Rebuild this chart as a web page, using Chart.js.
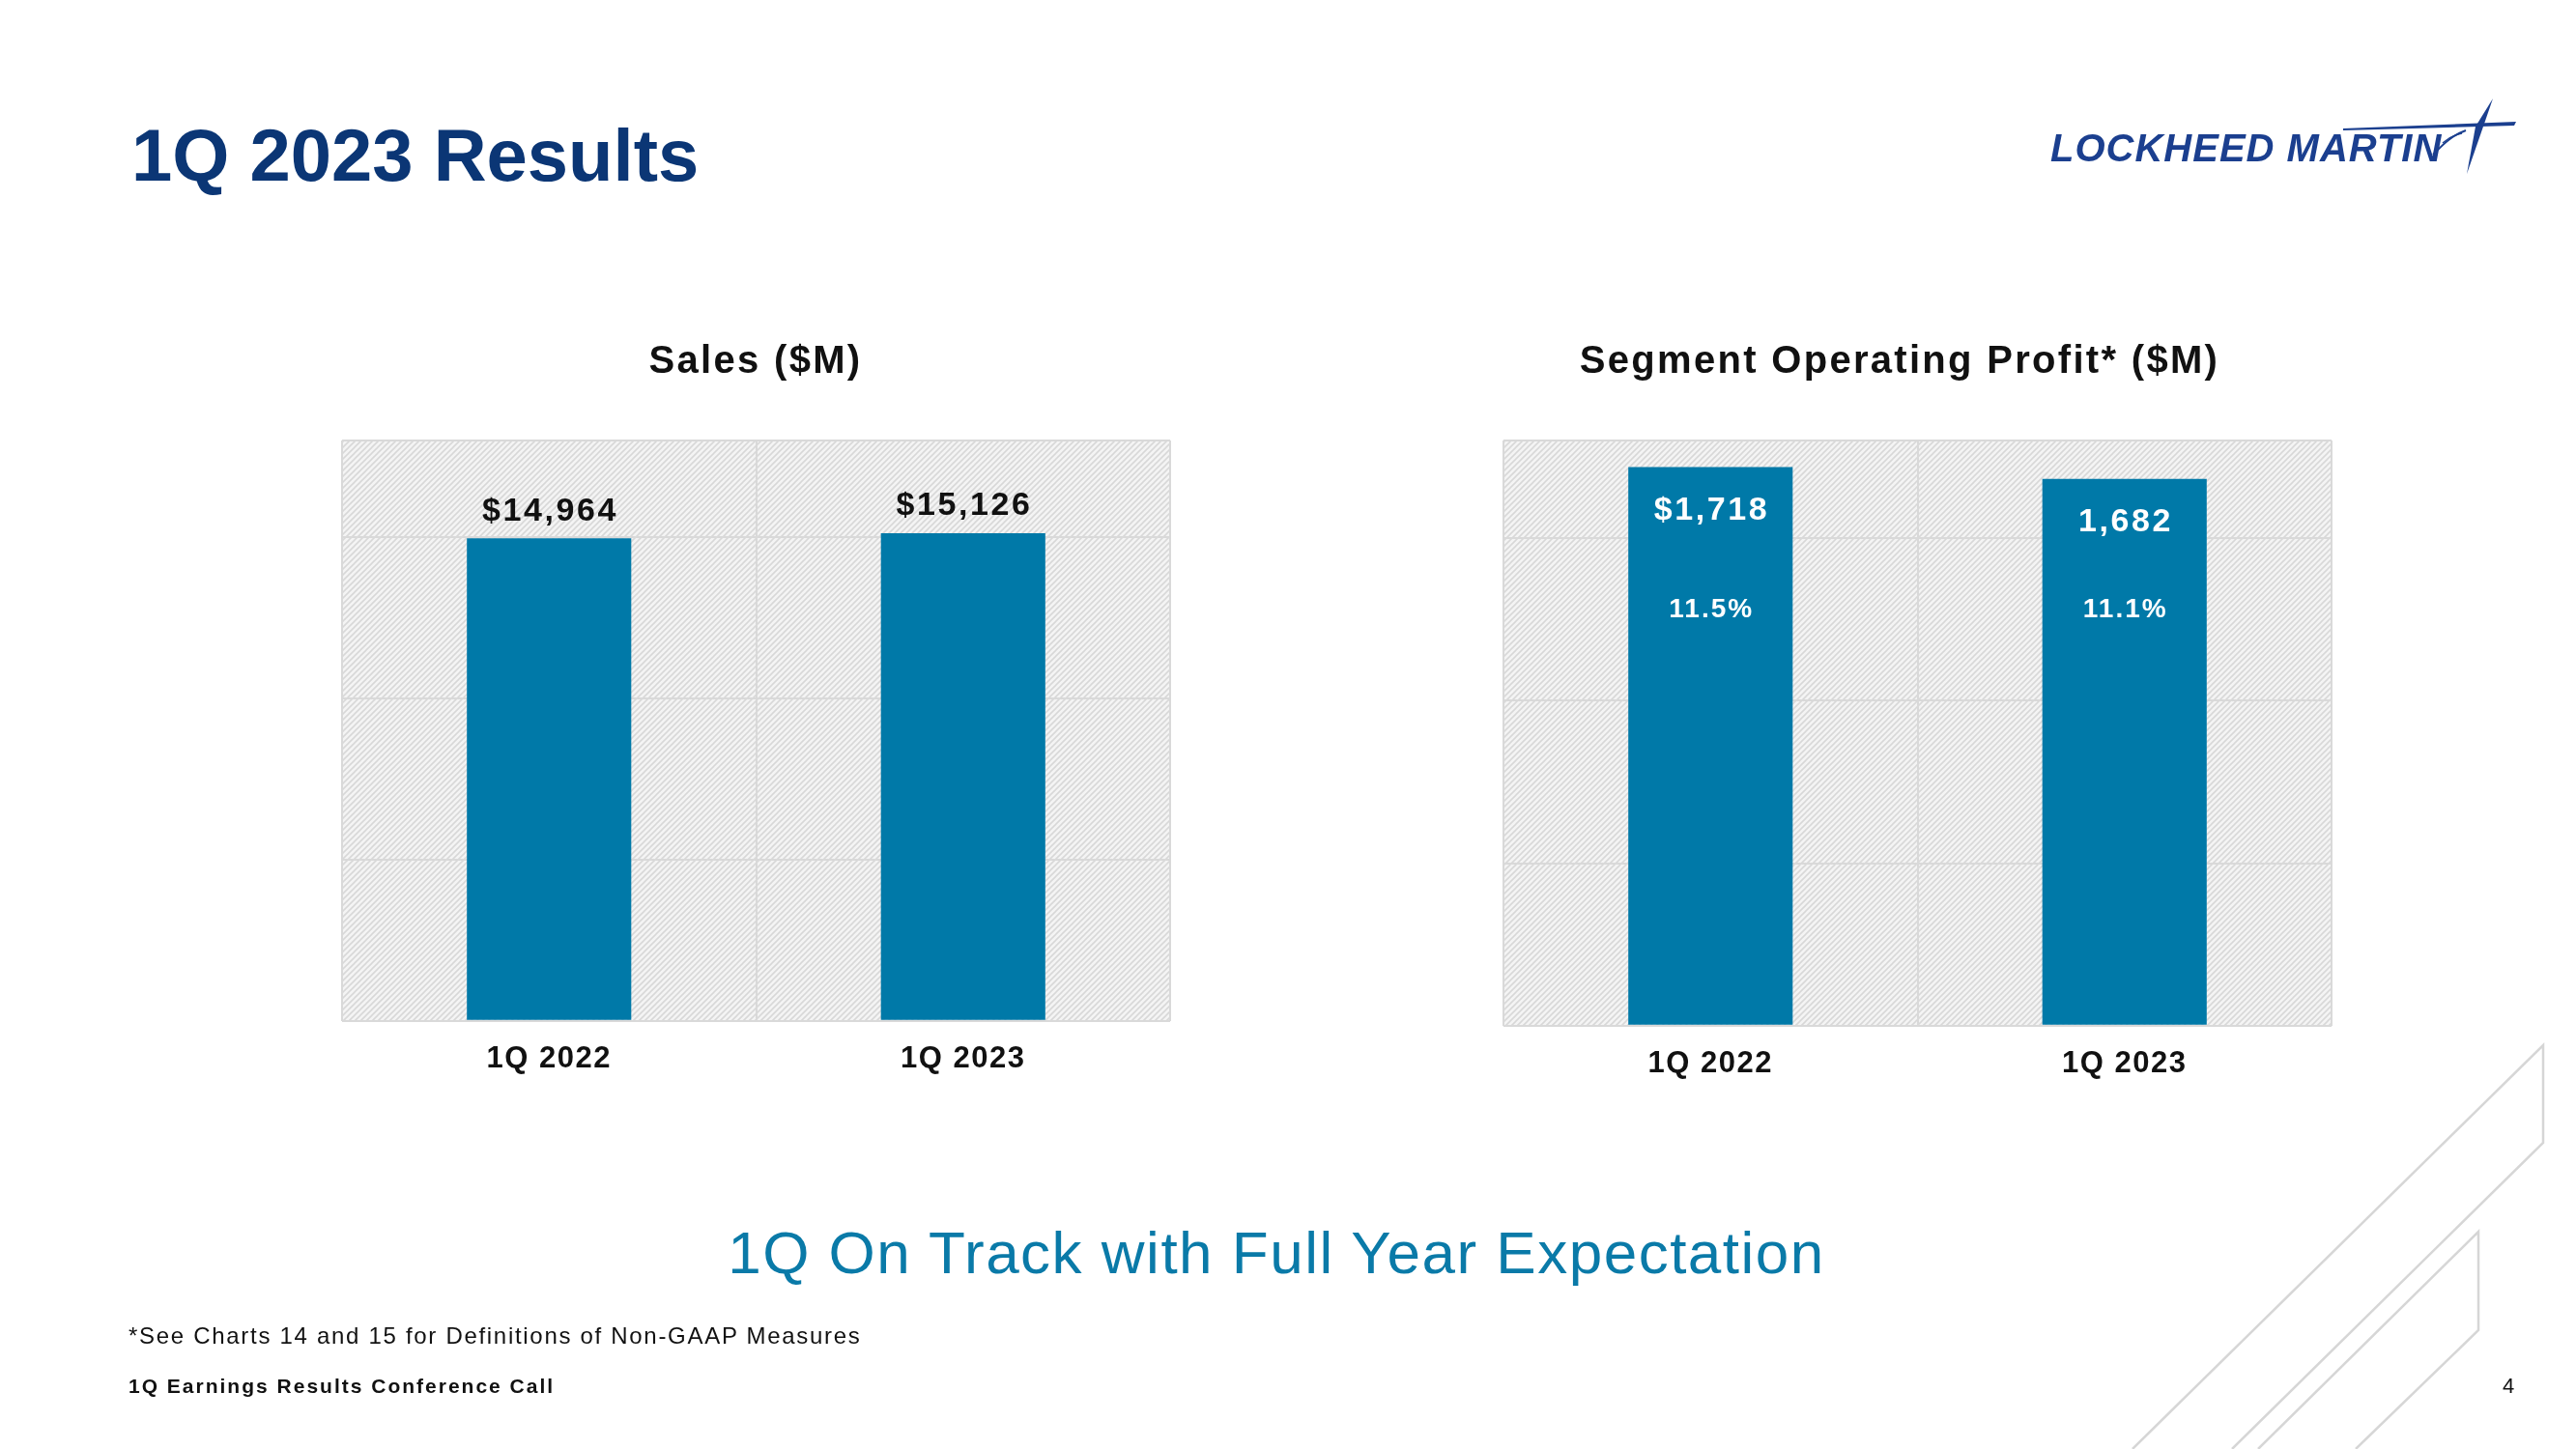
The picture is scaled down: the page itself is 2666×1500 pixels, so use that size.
<!DOCTYPE html>
<html lang="en">
<head>
    <meta charset="UTF-8">
    <title>1Q 2023 Results</title>
    <style>
        body {
            margin: 0;
            width: 2666px;
            height: 1500px;
            background: #ffffff;
            position: relative;
            overflow: hidden;
            font-family: 'Liberation Sans', Arial, sans-serif;
        }
        canvas {
            position: absolute;
        }
        #salesChart { left: 349px; top: 451px; }
        #profitChart { left: 1551px; top: 451px; }
        svg#page {
            position: absolute;
            left: 0;
            top: 0;
        }
    </style>
</head>
<body>
    <canvas id="salesChart" width="867" height="690"></canvas>
    <canvas id="profitChart" width="867" height="695"></canvas>

    <svg id="page" width="2666" height="1500" xmlns="http://www.w3.org/2000/svg">
        <!-- title + logo -->
        <text x="136" y="187" font-size="76" font-weight="bold" fill="#0b3675">1Q 2023 Results</text>
        <text x="2122" y="167" font-size="40" font-weight="bold" font-style="italic" fill="#1b3f8f" letter-spacing="1">LOCKHEED MARTIN</text>
        <polygon points="2425,133 2604,126 2602,130 2425,135" fill="#1b3f8f"/>
        <polygon points="2580,102 2570,131 2553,180 2562,131" fill="#1b3f8f"/>
        <path d="M2518,160 C2528,150 2536,141 2552,135" stroke="#1b3f8f" stroke-width="2" fill="none"/>
        <path d="M2528,148 C2535,142 2541,139 2548,138" stroke="#1b3f8f" stroke-width="1.5" fill="none"/>

        <!-- chart titles -->
        <text x="782" y="386" font-size="40" font-weight="bold" fill="#111" text-anchor="middle" letter-spacing="2.3">Sales ($M)</text>
        <text x="1966" y="386" font-size="40" font-weight="bold" fill="#111" text-anchor="middle" letter-spacing="2.3">Segment Operating Profit* ($M)</text>

        <!-- takeaway + footer -->
        <text x="1321" y="1318" font-size="62" fill="#0a7aa8" text-anchor="middle" letter-spacing="1.5">1Q On Track with Full Year Expectation</text>
        <text x="133" y="1391" font-size="24" fill="#111" letter-spacing="1.7">*See Charts 14 and 15 for Definitions of Non-GAAP Measures</text>
        <text x="133" y="1442" font-size="21" font-weight="bold" fill="#111" letter-spacing="2">1Q Earnings Results Conference Call</text>
        <text x="2596" y="1442" font-size="22" fill="#111" text-anchor="middle">4</text>

        <!-- decorative strokes -->
        <polyline points="2207,1500 2632,1082 2632,1183 2310,1500" fill="none" stroke="#d6d6d6" stroke-width="2.5"/>
        <polyline points="2337,1500 2565,1275 2565,1377 2438,1500" fill="none" stroke="#d6d6d6" stroke-width="2.5"/>
    </svg>

    <script src="https://cdn.jsdelivr.net/npm/chart.js@4.4.1/dist/chart.umd.min.js"></script>
    <script>
        // data
        const categories = ['1Q 2022', '1Q 2023'];
        const salesValues = [14964, 15126];
        const salesLabels = ['$14,964', '$15,126'];
        const profitValues = [1718, 1682];
        const profitLabels = ['$1,718', '1,682'];
        const marginLabels = ['11.5%', '11.1%'];
        const salesTicks = [0, 5000, 10000, 15000, 18000];
        const profitTicks = [0, 500, 1000, 1500, 1800];

        const FONT = "'Liberation Sans', Arial, sans-serif";
        const BAR = '#0079a8';
        const GRID = '#d9d9d9';

        // diagonal hatch behind the plot
        function makeHatch(ctx) {
            const c = document.createElement('canvas');
            c.width = c.height = 6;
            const g = c.getContext('2d');
            g.fillStyle = '#f4f4f4';
            g.fillRect(0, 0, 6, 6);
            g.strokeStyle = '#d8d8d8';
            g.lineWidth = 1.6;
            g.beginPath();
            g.moveTo(0, 6); g.lineTo(6, 0);
            g.moveTo(-1, 1); g.lineTo(1, -1);
            g.moveTo(5, 7); g.lineTo(7, 5);
            g.stroke();
            return ctx.createPattern(c, 'repeat');
        }

        const hatchPlugin = {
            id: 'hatch',
            beforeDraw(chart) {
                const { ctx, chartArea: a } = chart;
                ctx.save();
                ctx.fillStyle = makeHatch(ctx);
                ctx.fillRect(a.left, a.top, a.right - a.left, a.bottom - a.top);
                ctx.restore();
                ctx.letterSpacing = '1.5px';
            }
        };

        function drawText(ctx, txt, x, y, size, color, spacing) {
            ctx.font = 'bold ' + size + 'px ' + FONT;
            ctx.letterSpacing = spacing + 'px';
            ctx.fillStyle = color;
            ctx.textAlign = 'center';
            ctx.textBaseline = 'middle';
            ctx.fillText(txt, x + spacing / 2, y);
        }

        const salesLabelPlugin = {
            id: 'salesLabels',
            afterDatasetsDraw(chart) {
                const ctx = chart.ctx;
                ctx.save();
                chart.getDatasetMeta(0).data.forEach((bar, i) => {
                    drawText(ctx, salesLabels[i], bar.x, bar.y - 28, 34, '#111', 2.6);
                });
                ctx.restore();
            }
        };

        const profitLabelPlugin = {
            id: 'profitLabels',
            afterDatasetsDraw(chart) {
                const ctx = chart.ctx;
                const yMargin = chart.scales.y.getPixelForValue(1280);
                ctx.save();
                chart.getDatasetMeta(0).data.forEach((bar, i) => {
                    drawText(ctx, profitLabels[i], bar.x, bar.y + 45, 34, '#ffffff', 2.6);
                    drawText(ctx, marginLabels[i], bar.x, yMargin, 28, '#ffffff', 2);
                });
                ctx.restore();
            }
        };

        function barConfig(values, ticks, labelPlugin) {
            return {
                type: 'bar',
                data: {
                    labels: categories,
                    datasets: [{
                        data: values,
                        backgroundColor: BAR,
                        categoryPercentage: 1,
                        barPercentage: 0.397
                    }]
                },
                options: {
                    responsive: false,
                    animation: false,
                    devicePixelRatio: 1,
                    layout: { padding: 5 },
                    plugins: {
                        legend: { display: false },
                        tooltip: { enabled: false }
                    },
                    scales: {
                        x: {
                            grid: { color: GRID, lineWidth: 2, drawTicks: false, offset: true },
                            border: { display: false },
                            ticks: {
                                color: '#111',
                                font: { family: FONT, size: 31, weight: 'bold' },
                                padding: 21
                            }
                        },
                        y: {
                            min: ticks[0],
                            max: ticks[ticks.length - 1],
                            afterBuildTicks(scale) {
                                scale.ticks = ticks.map(v => ({ value: v }));
                            },
                            ticks: { display: false },
                            grid: { color: GRID, lineWidth: 2, drawTicks: false },
                            border: { display: false }
                        }
                    }
                },
                plugins: [hatchPlugin, labelPlugin]
            };
        }

        new Chart(document.getElementById('salesChart'), barConfig(salesValues, salesTicks, salesLabelPlugin));
        new Chart(document.getElementById('profitChart'), barConfig(profitValues, profitTicks, profitLabelPlugin));
    </script>
</body>
</html>
